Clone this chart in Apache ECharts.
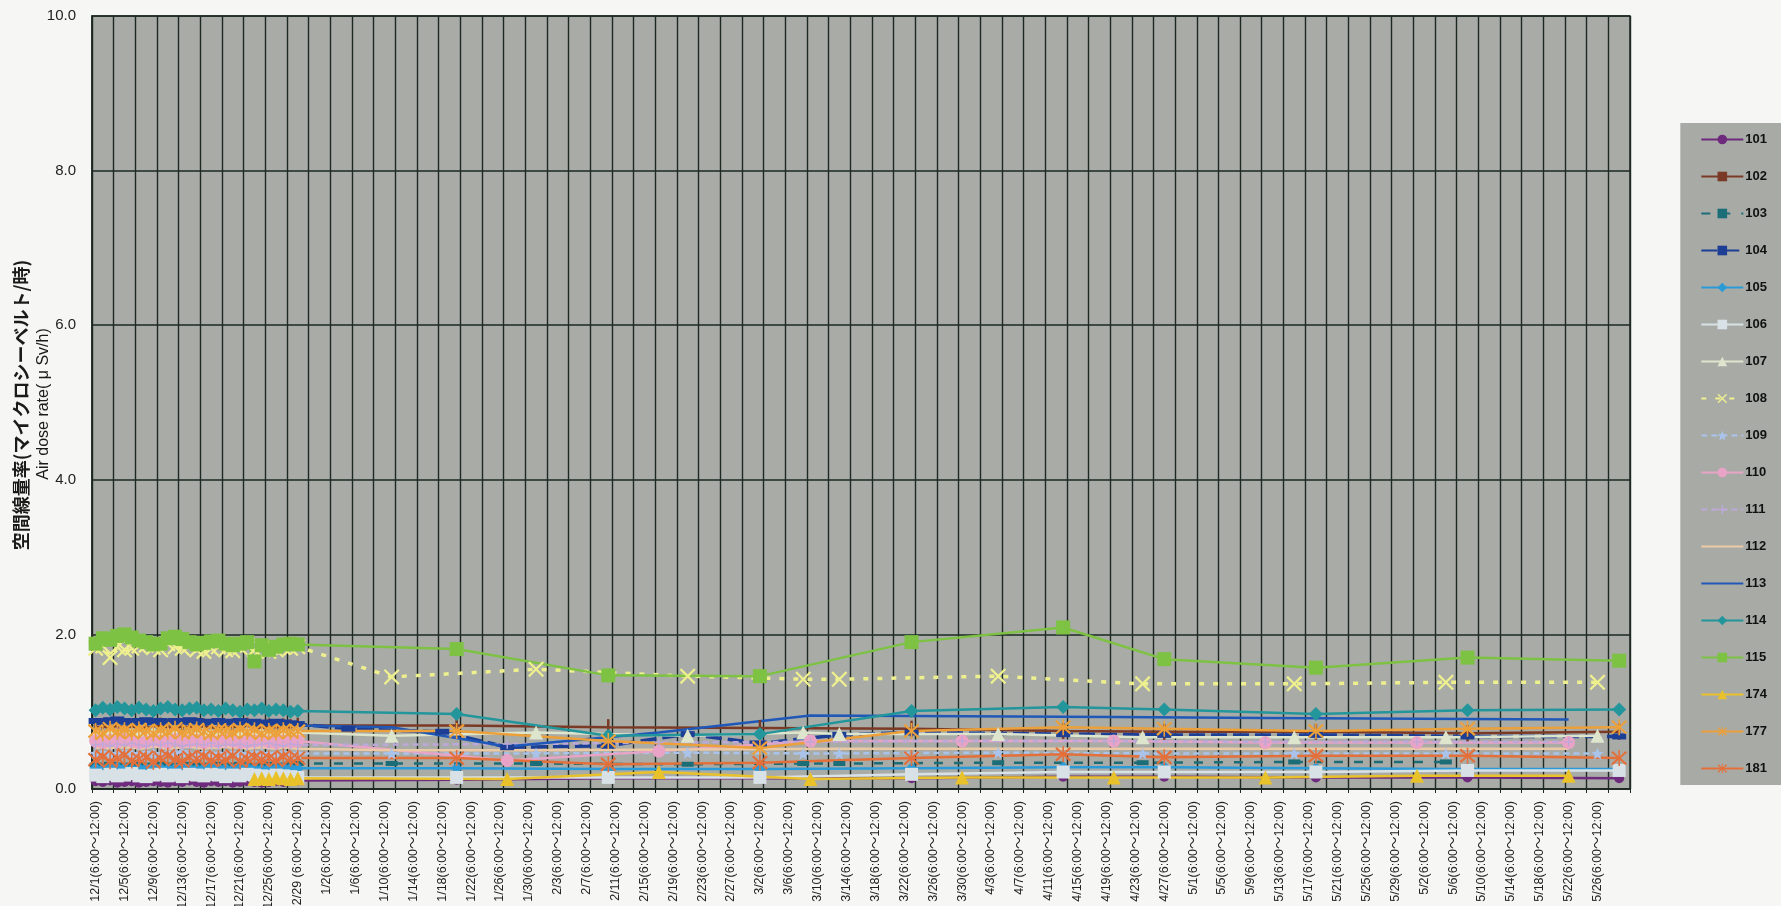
<!DOCTYPE html>
<html>
<head>
<meta charset="utf-8">
<script src="https://cdn.jsdelivr.net/npm/echarts@6/dist/echarts.min.js"></script>
<style>
  html, body { margin: 0; padding: 0; background: #f6f6f4; }
  #chart { width: 1781px; height: 906px; }
</style>
</head>
<body>
<div id="chart"></div>
<script>
// Daily categories 12/1 .. 6/30 (one slot per day)
const monthLengths = [[12, 31], [1, 31], [2, 29], [3, 31], [4, 30], [5, 31], [6, 30]];
const days = [];
monthLengths.forEach(([m, n]) => { for (let d = 1; d <= n; d++) days.push(m + '/' + d); });

// Tick labels, one every 4 days
const tickLabels = [
  '12/1(6:00～12:00)', '12/5(6:00～12:00)', '12/9(6:00～12:00)', '12/13(6:00～12:00)',
  '12/17(6:00～12:00)', '12/21(6:00～12:00)', '12/25(6:00～12:00)', '12/29 (6:00～12:00)',
  '1/2(6:00～12:00)', '1/6(6:00～12:00)', '1/10(6:00～12:00)', '1/14(6:00～12:00)',
  '1/18(6:00～12:00)', '1/22(6:00～12:00)', '1/26(6:00～12:00)', '1/30(6:00～12:00)',
  '2/3(6:00～12:00)', '2/7(6:00～12:00)', '2/11(6:00～12:00)', '2/15(6:00～12:00)',
  '2/19(6:00～12:00)', '2/23(6:00～12:00)', '2/27(6:00～12:00)', '3/2(6:00～12:00)',
  '3/6(6:00～12:00)', '3/10(6:00～12:00)', '3/14(6:00～12:00)', '3/18(6:00～12:00)',
  '3/22(6:00～12:00)', '3/26(6:00～12:00)', '3/30(6:00～12:00)', '4/3(6:00～12:00)',
  '4/7(6:00～12:00)', '4/11(6:00～12:00)', '4/15(6:00～12:00)', '4/19(6:00～12:00)',
  '4/23(6:00～12:00)', '4/27(6:00～12:00)', '5/1(6:00～12:00)', '5/5(6:00～12:00)',
  '5/9(6:00～12:00)', '5/13(6:00～12:00)', '5/17(6:00～12:00)', '5/21(6:00～12:00)',
  '5/25(6:00～12:00)', '5/29(6:00～12:00)', '5/2(6:00～12:00)', '5/6(6:00～12:00)',
  '5/10(6:00～12:00)', '5/14(6:00～12:00)', '5/18(6:00～12:00)', '5/22(6:00～12:00)',
  '5/26(6:00～12:00)'
];

const seriesNames = ['101','102','103','104','105','106','107','108','109','110','111','112','113','114','115','174','177','181'];

// Measurement day indices (0 = 12/1) after the daily December period
const schedA = [50, 71, 92, 113, 134, 148, 169, 190, 211];
const schedB = [41, 61, 82, 98, 103, 125, 145, 166, 187, 208];
const schedC = [57, 78, 99, 120, 141, 162, 183, 204];
const idx103 = [41, 61, 82, 98, 103, 125, 145, 166, 187];
const idx104 = [35, 48, 57, 71, 82, 92, 103, 113, 134, 148, 169, 190, 211];
const idx112 = [41, 61, 82, 103, 125, 145, 166, 187, 204];
const idx113 = [41, 57, 78, 99, 120, 141, 162, 183, 204];

// Daily December readings (12/1 .. 12/29), μSv/h
const dec101 = [0.10,0.09,0.11,0.08,0.09,0.10,0.08,0.09,0.10,0.09,0.08,0.10,0.09,0.11,0.09,0.08,0.10,0.09,0.10,0.08,0.09,0.10,0.09,0.08,0.09,0.10,0.09,0.10,0.11];
const dec102 = [0.80,0.81,0.79,0.82,0.80,0.81,0.80,0.79,0.81,0.82,0.80,0.79,0.81,0.80,0.82,0.81,0.80,0.79,0.80,0.81,0.80,0.82,0.80,0.79,0.81,0.80,0.81,0.80,0.82];
const dec103 = [0.31,0.30,0.32,0.31,0.30,0.31,0.32,0.30,0.31,0.32,0.31,0.30,0.31,0.32,0.31,0.30,0.31,0.32,0.30,0.31,0.32,0.31,0.30,0.31,0.32,0.31,0.30,0.32,0.33];
const dec104 = [0.88,0.87,0.89,0.90,0.88,0.86,0.88,0.89,0.87,0.88,0.86,0.88,0.87,0.89,0.88,0.86,0.87,0.88,0.86,0.87,0.88,0.86,0.87,0.85,0.86,0.87,0.86,0.85,0.84];
const dec105 = [0.27,0.26,0.27,0.28,0.27,0.26,0.27,0.27,0.28,0.27,0.26,0.27,0.28,0.27,0.26,0.27,0.28,0.27,0.27,0.26,0.27,0.28,0.27,0.26,0.27,0.27,0.28,0.27,0.27];
const dec106 = [0.18,0.16,0.19,0.17,0.18,0.20,0.17,0.16,0.18,0.19,0.17,0.18,0.16,0.19,0.18,0.17,0.19,0.18,0.16,0.18,0.17,0.19,0.18,0.17,0.16,0.18,0.17,0.16,0.15];
const dec107 = [0.72,0.70,0.73,0.71,0.69,0.72,0.70,0.71,0.73,0.70,0.72,0.71,0.69,0.72,0.70,0.73,0.71,0.70,0.72,0.69,0.71,0.73,0.70,0.72,0.71,0.70,0.72,0.71,0.73];
const dec108 = [1.82,1.85,1.70,1.84,1.80,1.82,1.85,1.86,1.83,1.80,1.88,1.84,1.82,1.86,1.80,1.78,1.82,1.84,1.80,1.79,1.83,1.86,1.80,1.82,1.78,1.80,1.83,1.82,1.84];
const dec109 = [0.46,0.47,0.45,0.46,0.48,0.46,0.45,0.47,0.46,0.45,0.47,0.46,0.48,0.46,0.45,0.47,0.46,0.45,0.46,0.47,0.46,0.45,0.47,0.46,0.45,0.46,0.47,0.46,0.46];
const dec110 = [0.62,0.60,0.63,0.61,0.64,0.62,0.60,0.61,0.63,0.62,0.60,0.64,0.61,0.62,0.63,0.60,0.62,0.61,0.63,0.62,0.60,0.61,0.62,0.63,0.61,0.60,0.62,0.61,0.62];
const dec111 = [0.57,0.58,0.56,0.58,0.57,0.59,0.57,0.56,0.58,0.57,0.59,0.58,0.56,0.57,0.58,0.57,0.59,0.56,0.58,0.57,0.58,0.56,0.57,0.58,0.59,0.57,0.56,0.58,0.57];
const dec112 = [0.53,0.54,0.52,0.55,0.53,0.54,0.52,0.53,0.55,0.54,0.52,0.53,0.54,0.55,0.53,0.52,0.54,0.53,0.55,0.53,0.54,0.52,0.53,0.54,0.53,0.52,0.54,0.53,0.52];
const dec113 = [0.85,0.84,0.86,0.85,0.84,0.86,0.85,0.83,0.85,0.86,0.84,0.85,0.86,0.84,0.85,0.83,0.85,0.84,0.86,0.85,0.84,0.85,0.83,0.84,0.85,0.84,0.83,0.84,0.82];
const dec114 = [1.02,1.05,1.03,1.06,1.04,1.02,1.05,1.03,1.01,1.04,1.06,1.03,1.02,1.04,1.05,1.02,1.03,1.01,1.04,1.02,1.00,1.03,1.02,1.04,1.01,1.03,1.02,1.00,1.01];
const dec115 = [1.88,1.95,1.93,1.98,2.00,1.96,1.92,1.90,1.87,1.88,1.95,1.97,1.94,1.90,1.87,1.89,1.91,1.92,1.88,1.86,1.88,1.90,1.65,1.86,1.80,1.84,1.87,1.88,1.87];
const dec174 = [null,null,null,null,null,null,null,null,null,null,null,null,null,null,null,null,null,null,null,null,null,null,0.13,0.14,0.13,0.15,0.14,0.13,0.14];
const dec177 = [0.75,0.72,0.78,0.74,0.76,0.73,0.77,0.75,0.72,0.76,0.74,0.78,0.73,0.75,0.77,0.74,0.72,0.76,0.75,0.73,0.77,0.74,0.76,0.72,0.75,0.73,0.76,0.74,0.75];
const dec181 = [0.38,0.42,0.36,0.40,0.44,0.37,0.39,0.41,0.35,0.40,0.43,0.38,0.36,0.41,0.39,0.42,0.37,0.40,0.38,0.43,0.36,0.39,0.41,0.38,0.40,0.37,0.42,0.39,0.40];

// Later readings, matched to the day indices above
const late101 = [0.12,0.14,0.14,0.14,0.16,0.16,0.15,0.15,0.14];
const late102 = [0.82,0.80,0.79,0.78,0.75,0.74,0.74,0.72,0.74];
const late103 = [0.33,0.33,0.32,0.33,0.33,0.34,0.34,0.35,0.35];
const late104 = [0.78,0.74,0.54,0.56,0.71,0.59,0.70,0.73,0.71,0.70,0.70,0.68,0.68];
const late105 = [0.27,0.26,0.26,0.27,0.28,0.28,0.27,0.26,0.26];
const late106 = [0.15,0.15,0.15,0.19,0.22,0.22,0.22,0.24,0.24];
const late107 = [0.69,0.73,0.69,0.73,0.71,0.71,0.67,0.67,0.67,0.69];
const late108 = [1.45,1.55,1.46,1.42,1.42,1.46,1.36,1.36,1.38,1.38];
const late109 = [0.46,0.46,0.47,0.46,0.46,0.47,0.46,0.46,0.46,0.46];
const late110 = [0.37,0.49,0.62,0.62,0.62,0.60,0.60,0.60];
const late111 = [0.58,0.60,0.61,0.62,0.62,0.61,0.61,0.61];
const late112 = [0.50,0.50,0.51,0.52,0.52,0.52,0.52,0.52,0.52];
const late113 = [0.80,0.55,0.73,0.95,0.94,0.93,0.92,0.91,0.90];
const late114 = [0.97,0.69,0.71,1.01,1.06,1.03,0.97,1.02,1.03];
const late115 = [1.81,1.47,1.46,1.90,2.09,1.68,1.57,1.70,1.66];
const late174 = [0.13,0.22,0.13,0.15,0.15,0.15,0.17,0.17];
const late177 = [0.75,0.62,0.53,0.75,0.80,0.78,0.75,0.78,0.80];
const late181 = [0.40,0.32,0.34,0.40,0.45,0.41,0.43,0.43,0.40];

function points(dec, idx, late) {
  const out = [];
  dec.forEach((v, i) => { if (v != null) out.push([i, v]); });
  idx.forEach((d, k) => out.push([d, late[k]]));
  return out;
}

// Marker shapes (path symbols are scaled to their own bounding box)
const X_PATH = 'path://M0,2 L2,0 L10,8 L18,0 L20,2 L12,10 L20,18 L18,20 L10,12 L2,20 L0,18 L8,10 Z';
const AST_PATH = 'path://M0,3 L2,1 L10,8.5 L18,1 L20,3 L12,10 L20,17 L18,19 L10,11.5 L2,19 L0,17 L8,10 Z M9,0 L11,0 L11,20 L9,20 Z';
const BAR_PATH = 'path://M0,0 L10,0 L10,10 L0,10 Z';
const STAR_PATH = 'path://M10,0 L12.9,6.9 L20,7.6 L14.6,12.3 L16.2,19.5 L10,15.7 L3.8,19.5 L5.4,12.3 L0,7.6 L7.1,6.9 Z';
const PLUS_PATH = 'path://M8.5,0 L11.5,0 L11.5,8.5 L20,8.5 L20,11.5 L11.5,11.5 L11.5,20 L8.5,20 L8.5,11.5 L0,11.5 L0,8.5 L8.5,8.5 Z';

const styles = {
  '101': { color: '#6e2b7d', symbol: 'circle', size: 10, data: points(dec101, schedA, late101) },
  '102': { color: '#7b3a25', symbol: BAR_PATH, size: [2.5, 16], data: points(dec102, schedA, late102) },
  '103': { color: '#1b6d78', symbol: BAR_PATH, size: [12, 5], type: [9, 11], data: points(dec103, idx103, late103) },
  '104': { color: '#1c3e95', symbol: BAR_PATH, size: [14, 6], type: [16, 6], width: 3.5, data: points(dec104, idx104, late104) },
  '105': { color: '#2b9bd8', symbol: 'diamond', size: 12, data: points(dec105, schedA, late105) },
  '106': { color: '#d8e1e6', symbol: 'rect', size: 13, data: points(dec106, schedA, late106) },
  '107': { color: '#dde5cd', symbol: 'triangle', size: 14, data: points(dec107, schedB, late107) },
  '108': { color: '#eef08e', symbol: X_PATH, size: 16, type: [5, 9], width: 3.5, data: points(dec108, schedB, late108) },
  '109': { color: '#a9c3ea', symbol: STAR_PATH, size: 12, type: [6, 4], data: points(dec109, schedB, late109) },
  '110': { color: '#e8a3c6', symbol: 'circle', size: 13, data: points(dec110, schedC, late110) },
  '111': { color: '#bca8d9', symbol: PLUS_PATH, size: 9, type: [6, 4], data: points(dec111, schedC, late111) },
  '112': { color: '#ebc9a5', symbol: 'none', size: 0, data: points(dec112, idx112, late112) },
  '113': { color: '#2058b8', symbol: 'none', size: 0, data: points(dec113, idx113, late113) },
  '114': { color: '#23969c', symbol: 'diamond', size: 14, data: points(dec114, schedA, late114) },
  '115': { color: '#7dc243', symbol: 'rect', size: 14, data: points(dec115, schedA, late115) },
  '174': { color: '#e9c22b', symbol: 'triangle', size: 14, data: points(dec174, schedC, late174) },
  '177': { color: '#eca03a', symbol: AST_PATH, size: 16, data: points(dec177, schedA, late177) },
  '181': { color: '#e3703b', symbol: AST_PATH, size: 16, data: points(dec181, schedA, late181) }
};

const series = seriesNames.map(name => {
  const s = styles[name];
  return {
    name: name,
    type: 'line',
    data: s.data,
    symbol: s.symbol,
    symbolSize: s.size,
    showSymbol: s.symbol !== 'none',
    showAllSymbol: true,
    lineStyle: { color: s.color, width: s.width || 2.5, type: s.type || 'solid' },
    itemStyle: { color: s.color, borderWidth: 0 },
    emphasis: { disabled: true },
    z: 2
  };
});

// Legend entries; lines without markers get no legend symbol
const legendItems = seriesNames.map(name =>
  styles[name].symbol === 'none' ? { name: name, itemStyle: { opacity: 0 } } : { name: name }
);

const GRID_COLOR = '#1d2922';

const chart = echarts.init(document.getElementById('chart'), null, { renderer: 'canvas' });
chart.setOption({
  animation: false,
  backgroundColor: '#f6f6f4',
  grid: {
    left: 92, right: 151, top: 16, bottom: 117,
    outerBoundsMode: 'none',
    show: true, backgroundColor: '#a9aba7', borderColor: GRID_COLOR, borderWidth: 1.5
  },
  legend: {
    data: legendItems,
    orient: 'vertical',
    right: 0,
    top: 123,
    backgroundColor: '#a8aaa6',
    padding: [10, 14, 10, 20],
    itemWidth: 42,
    itemHeight: 12,
    itemGap: 24,
    selectedMode: false,
    textStyle: { fontSize: 13, fontWeight: 'bold', color: '#111', fontFamily: 'Liberation Sans', padding: [0, 0, 0, -3] }
  },
  xAxis: {
    type: 'category',
    data: days,
    boundaryGap: true,
    axisLine: { show: true, lineStyle: { color: GRID_COLOR, width: 1.5 } },
    axisTick: { show: true, interval: 2, length: 4, lineStyle: { color: GRID_COLOR } },
    axisLabel: {
      interval: 3,
      rotate: 90,
      margin: 12,
      fontSize: 12.5,
      color: '#222',
      fontFamily: 'Liberation Sans, Noto Sans CJK JP',
      formatter: (v, i) => tickLabels[i / 4] || ''
    },
    splitLine: { show: true, interval: 2, lineStyle: { color: GRID_COLOR, width: 1.4 } }
  },
  yAxis: {
    type: 'value',
    min: 0,
    max: 10,
    interval: 2,
    axisLine: { show: true, lineStyle: { color: GRID_COLOR, width: 1.5 } },
    axisTick: { show: false },
    axisLabel: {
      margin: 16,
      fontSize: 15,
      color: '#222',
      fontFamily: 'Liberation Sans',
      formatter: v => v.toFixed(1)
    },
    splitLine: { show: true, lineStyle: { color: GRID_COLOR, width: 1.5 } }
  },
  graphic: [
    {
      type: 'text', x: 21, y: 405, rotation: Math.PI / 2,
      style: {
        text: '空間線量率(マイクロシーベルト/時)', fill: '#1a1a1a',
        font: 'bold 18px "Noto Sans CJK JP"', textAlign: 'center', textVerticalAlign: 'middle'
      }
    },
    {
      type: 'text', x: 44, y: 404, rotation: Math.PI / 2,
      style: {
        text: 'Air dose rate( μ Sv/h)', fill: '#1a1a1a',
        font: '16px "Liberation Sans"', textAlign: 'center', textVerticalAlign: 'middle'
      }
    }
  ],
  series: series
});
</script>
</body>
</html>
